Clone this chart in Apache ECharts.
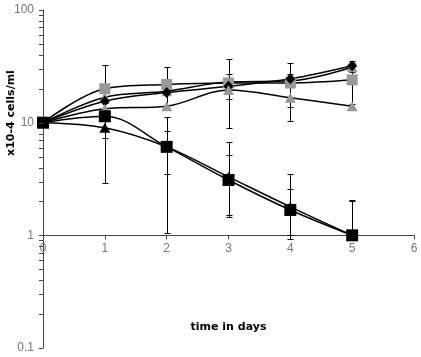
<!DOCTYPE html>
<html>
<head>
<meta charset="utf-8">
<script src="https://cdn.jsdelivr.net/npm/echarts@6/dist/echarts.min.js"></script>
<style>
html, body { margin: 0; padding: 0; background: #fff; }
#chart { width: 421px; height: 357px; }
</style>
</head>
<body>
<div id="chart"></div>
<script>
var days = [0, 1, 2, 3, 4, 5];
var graySquare = [10, 20, 21.8, 22.5, 22.5, 24];
var grayTriangleUp = [10, 16.8, 19, 23, 23.5, 31];
var blackDiamond = [10, 15.5, 18.5, 21, 24.5, 32];
var grayTriangle = [10, 13.3, 14, 19.5, 16.6, 14];
var blackTriangle = [10, 9.0, 6.1, 3.3, 1.79, 1.0];
var blackSquare = [10, 11.4, 6.1, 3.1, 1.68, 1.0];

// error bars as [low, high] per day, null where none is drawn
var graySquareErr = [null, [7.3, 32.7], [13, 31], [9, 36.7], [13.9, 33.6], [14.5, 35.5]];
var blackDiamondErr = [null, null, null, [16.2, 27], [22.5, 27], [28, 34]];
var grayTriangleErr = [null, null, null, null, [10.3, 22.9], null];
var blackTriangleErr = [null, [2.9, 15.1], [3.5, 8.5], [1.46, 5.2], [0.92, 2.6], [1.0, 2.0]];
var blackSquareErr = [null, null, [1.05, 11.15], [1.5, 6.7], [1.0, 3.5], [1.0, 2.07]];

var yLabels = [0.1, 1, 10, 100];
var yTicks = [0.1, 0.2, 0.3, 0.4, 0.5, 0.6, 0.7, 0.8, 0.9,
              1, 2, 3, 4, 5, 6, 7, 8, 9,
              10, 20, 30, 40, 50, 60, 70, 80, 90, 100];

var GRAY = '#999999';
var AXIS = '#444444';

var chart = echarts.init(document.getElementById('chart'));

function pairs(vals) {
    return days.map(function (d, i) { return [d, vals[i]]; });
}

function lineSeries(vals, symbol, size, color) {
    return {
        type: 'line',
        data: pairs(vals),
        symbol: symbol,
        symbolSize: size,
        showAllSymbol: true,
        smooth: 0.35,
        z: 3,
        itemStyle: { color: color, borderWidth: 0 },
        lineStyle: { color: '#000', width: 1.5 },
        emphasis: { disabled: true },
        clip: false
    };
}

function errSeries(err) {
    var data = [];
    err.forEach(function (e, i) {
        if (e) data.push([days[i], e[0], e[1]]);
    });
    return {
        type: 'custom',
        z: 2,
        silent: true,
        clip: false,
        encode: { x: 0, y: [1, 2] },
        data: data,
        renderItem: function (params, api) {
            var lo = api.coord([api.value(0), api.value(1)]);
            var hi = api.coord([api.value(0), api.value(2)]);
            var x = Math.round(lo[0]) + 0.5;
            var yl = Math.round(lo[1]) + 0.5;
            var yh = Math.round(hi[1]) + 0.5;
            var w = 3;
            var st = { stroke: '#000', lineWidth: 1 };
            return {
                type: 'group',
                children: [
                    { type: 'line', shape: { x1: x, y1: yl, x2: x, y2: yh }, style: st },
                    { type: 'line', shape: { x1: x - w, y1: yl, x2: x + w, y2: yl }, style: st },
                    { type: 'line', shape: { x1: x - w, y1: yh, x2: x + w, y2: yh }, style: st }
                ]
            };
        }
    };
}

var yTitle = {
    id: 'ytitle',
    type: 'text',
    x: 11,
    y: 113,
    rotation: Math.PI / 2,
    style: {
        text: 'x10-4 cells/ml',
        fontFamily: 'DejaVu Sans',
        fontWeight: 'bold',
        fontSize: 11,
        fill: '#000',
        align: 'center',
        verticalAlign: 'middle'
    }
};

var option = {
    animation: false,
    grid: { left: 43, top: 10, width: 371, height: 338, containLabel: false },
    xAxis: {
        type: 'value',
        min: 0,
        max: 6,
        interval: 1,
        offset: -112.67,
        name: 'time in days',
        nameLocation: 'middle',
        nameGap: 86,
        nameTextStyle: { fontFamily: 'DejaVu Sans', fontWeight: 'bold', fontSize: 11, color: '#000' },
        axisLine: { lineStyle: { color: AXIS, width: 1 } },
        axisTick: { length: 4, lineStyle: { color: AXIS } },
        axisLabel: { margin: 7, fontFamily: 'Liberation Sans', fontSize: 12, color: '#777' },
        splitLine: { show: false }
    },
    yAxis: {
        type: 'log',
        logBase: 10,
        min: 0.1,
        max: 100,
        axisLine: { show: true, lineStyle: { color: AXIS, width: 1 } },
        axisTick: { show: false },
        axisLabel: {
            margin: 9,
            customValues: yLabels,
            fontFamily: 'Liberation Sans',
            fontSize: 12,
            color: '#777',
            formatter: function (v) { return String(+v.toPrecision(3)); }
        },
        splitLine: { show: false }
    },
    graphic: [yTitle],
    series: [
        errSeries(graySquareErr),
        errSeries(blackDiamondErr),
        errSeries(grayTriangleErr),
        errSeries(blackTriangleErr),
        errSeries(blackSquareErr),
        lineSeries(graySquare, 'rect', 11, GRAY),
        lineSeries(grayTriangleUp, 'triangle', [11, 10], GRAY),
        lineSeries(blackDiamond, 'diamond', [10, 11], '#000'),
        lineSeries(grayTriangle, 'triangle', [11, 10], GRAY),
        lineSeries(blackTriangle, 'triangle', [11, 10], '#000'),
        lineSeries(blackSquare, 'rect', 12, '#000')
    ]
};

chart.setOption(option);

// log-spaced ticks on the y axis, positioned with the chart's own axis scale
function drawTicks() {
    var marks = [yTitle];
    yTicks.forEach(function (v, i) {
        var p = chart.convertToPixel({ xAxisIndex: 0, yAxisIndex: 0 }, [0, v]);
        var x = Math.round(p[0]);
        var y = Math.round(p[1]) + 0.5;
        marks.push({
            id: 'ytick' + i,
            type: 'line',
            z: 10,
            shape: { x1: x - 4, y1: y, x2: x, y2: y },
            style: { stroke: AXIS, lineWidth: 1 }
        });
    });
    chart.setOption({ graphic: marks });
}
drawTicks();

window.addEventListener('resize', function () {
    chart.resize();
    drawTicks();
});
</script>
</body>
</html>
